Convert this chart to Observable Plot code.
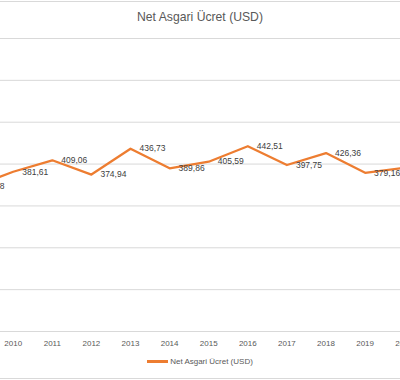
<!DOCTYPE html>
<html>
<head>
<meta charset="utf-8">
<script src="https://cdn.jsdelivr.net/npm/d3@7"></script>
<script src="https://cdn.jsdelivr.net/npm/@observablehq/plot@0.6"></script>
<style>
  html, body { margin: 0; padding: 0; background: #fff; overflow: hidden; }
  #wrap { position: relative; width: 400px; height: 380px; overflow: hidden; font-family: "Liberation Sans", Arial, sans-serif; }
  #box { position: absolute; left: -10px; top: 1px; width: 418px; height: 376px; border: 1px solid #d9d9d9; }
  #title { position: absolute; left: 0; top: 10px; width: 400px; text-align: center; font-size: 12.2px; color: #595959; }
  #chart { position: absolute; left: 0; top: 0; }
  #legend { position: absolute; left: 0; top: 357px; width: 400px; display: flex; justify-content: center; align-items: center; font-size: 8px; color: #595959; }
  #legend .sw { display: inline-block; width: 21px; height: 2.3px; background: #ED7D31; margin-right: 2px; }
</style>
</head>
<body>
<div id="wrap">
  <div id="box"></div>
  <div id="chart"></div>
  <div id="title">Net Asgari Ücret (USD)</div>
  <div id="legend"><span class="sw"></span><span>Net Asgari Ücret (USD)</span></div>
</div>
<script>
const years = [2009, 2010, 2011, 2012, 2013, 2014, 2015, 2016, 2017, 2018, 2019, 2020];
const values = [346.8, 381.61, 409.06, 374.94, 436.73, 389.86, 405.59, 442.51, 397.75, 426.36, 379.16, 391.2];
const yTicks = [0, 100, 200, 300, 400, 500, 600, 700];
const xTicks = [2010, 2011, 2012, 2013, 2014, 2015, 2016, 2017, 2018, 2019, 2020];
const seriesName = "Net Asgari Ücret (USD)";

const data = years.map((y, i) => ({year: y, value: values[i]}));
const fmt = v => String(+v.toFixed(2)).replace(".", ",");

const chart = Plot.plot({
  width: 400,
  height: 380,
  marginLeft: 0,
  marginRight: 0,
  marginTop: 38,
  marginBottom: 49,
  style: {fontFamily: "Liberation Sans, Arial, sans-serif", background: "transparent", overflow: "hidden"},
  x: {type: "linear", domain: [2009.675, 2019.905], axis: null, label: null},
  y: {domain: [0, 700], axis: null, label: null},
  marks: [
    Plot.ruleY(yTicks, {stroke: "#d9d9d9", strokeWidth: 1}),
    Plot.axisX(xTicks, {tickSize: 0, tickPadding: 9, fontSize: 8, color: "#595959", tickFormat: d => String(d), label: null, textOverflow: null}),
    Plot.line(data, {x: "year", y: "value", stroke: "#ED7D31", strokeWidth: 2.3, clip: true}),
    Plot.text(data, {x: "year", y: "value", text: d => fmt(d.value), textAnchor: "start", dx: 9, fontSize: 8.5, fill: "#404040", clip: true})
  ]
});
document.getElementById("chart").appendChild(chart);
</script>
</body>
</html>
